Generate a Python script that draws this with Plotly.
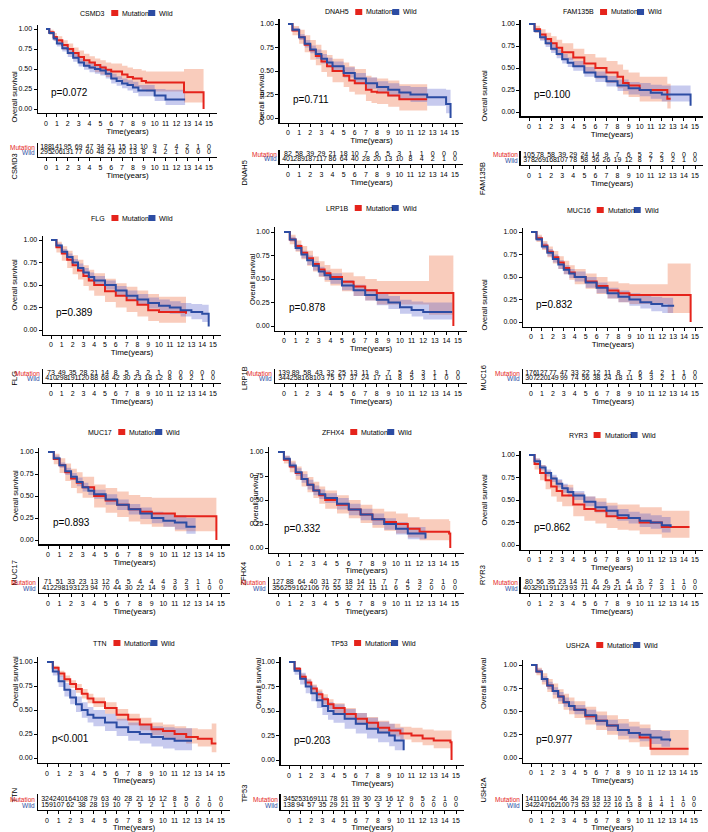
import plotly.graph_objects as go

W, H = 708, 832
RED = "#E5231B"
BLUE = "#2C4CA3"
RED_FILL = "rgba(240,120,80,0.38)"
BLUE_FILL = "rgba(70,80,200,0.30)"
FONT = "Liberation Sans, Arial, sans-serif"

GENES = ["CSMD3", "DNAH5", "FAM135B", "FLG", "LRP1B", "MUC16",
         "MUC17", "ZFHX4", "RYR3", "TTN", "TP53", "USH2A"]
PVALS = ["p=0.072", "p=0.711", "p=0.100", "p=0.389", "p=0.878", "p=0.832",
         "p=0.893", "p=0.332", "p=0.862", "p<0.001", "p=0.203", "p=0.977"]
YEARS = list(range(16))
YTICKS = [0, 0.25, 0.5, 0.75, 1.0]
YTICK_LABELS = ["0.00", "0.25", "0.50", "0.75", "1.00"]

# ---------------- survival curves (time, survival, lower CI, upper CI) ----------------
CSMD3_MUT_T = [0, 0.3, 0.7, 1, 1.5, 2, 2.5, 3, 3.5, 4, 4.5, 5, 5.5, 6, 7, 7.5, 8, 8.8, 9.2, 12.7, 14.5]
CSMD3_MUT_S = [1, 0.96, 0.9, 0.86, 0.8, 0.75, 0.7, 0.65, 0.61, 0.58, 0.55, 0.52, 0.49, 0.47, 0.43, 0.40, 0.38, 0.35, 0.33, 0.21, 0]
CSMD3_MUT_LO = [1, 0.93, 0.86, 0.81, 0.74, 0.68, 0.63, 0.58, 0.53, 0.5, 0.46, 0.43, 0.4, 0.37, 0.33, 0.3, 0.27, 0.24, 0.22, 0.08, 0]
CSMD3_MUT_HI = [1, 0.99, 0.95, 0.91, 0.86, 0.82, 0.77, 0.73, 0.69, 0.66, 0.63, 0.61, 0.58, 0.57, 0.54, 0.52, 0.5, 0.48, 0.47, 0.5, 0]
CSMD3_WT_T = [0, 0.3, 0.7, 1, 1.5, 2, 2.5, 3, 3.5, 4, 4.5, 5, 5.5, 6, 6.5, 7, 7.5, 8, 8.5, 10, 11, 12.8]
CSMD3_WT_S = [1, 0.95, 0.88, 0.82, 0.76, 0.7, 0.64, 0.58, 0.54, 0.52, 0.5, 0.48, 0.44, 0.38, 0.35, 0.32, 0.3, 0.27, 0.23, 0.17, 0.12, 0.12]
CSMD3_WT_LO = [1, 0.93, 0.85, 0.78, 0.72, 0.65, 0.59, 0.53, 0.49, 0.46, 0.44, 0.42, 0.38, 0.32, 0.29, 0.26, 0.23, 0.2, 0.16, 0.1, 0.05, 0.05]
CSMD3_WT_HI = [1, 0.97, 0.91, 0.86, 0.8, 0.75, 0.69, 0.63, 0.59, 0.58, 0.56, 0.54, 0.5, 0.44, 0.41, 0.38, 0.36, 0.34, 0.3, 0.25, 0.24, 0.24]

DNAH5_MUT_T = [0, 0.4, 1, 1.5, 2, 2.5, 3, 3.5, 4, 5, 5.5, 6, 7, 7.5, 8, 9, 10, 12.5]
DNAH5_MUT_S = [1, 0.93, 0.86, 0.78, 0.72, 0.66, 0.6, 0.55, 0.5, 0.45, 0.4, 0.37, 0.3, 0.28, 0.27, 0.24, 0.2, 0.2]
DNAH5_MUT_LO = [1, 0.88, 0.79, 0.7, 0.62, 0.56, 0.49, 0.44, 0.38, 0.33, 0.28, 0.25, 0.18, 0.16, 0.15, 0.12, 0.08, 0.08]
DNAH5_MUT_HI = [1, 0.98, 0.94, 0.88, 0.83, 0.78, 0.72, 0.67, 0.63, 0.59, 0.55, 0.52, 0.45, 0.43, 0.42, 0.4, 0.36, 0.36]
DNAH5_WT_T = [0, 0.4, 1, 1.5, 2, 2.5, 3, 3.5, 4, 5, 6, 7, 8, 9, 10, 11, 12.5, 14.2, 14.6]
DNAH5_WT_S = [1, 0.94, 0.86, 0.79, 0.73, 0.68, 0.63, 0.59, 0.55, 0.48, 0.42, 0.37, 0.33, 0.3, 0.27, 0.25, 0.22, 0.15, 0]
DNAH5_WT_LO = [1, 0.92, 0.83, 0.75, 0.69, 0.63, 0.58, 0.54, 0.5, 0.43, 0.36, 0.31, 0.27, 0.23, 0.2, 0.17, 0.13, 0.05, 0]
DNAH5_WT_HI = [1, 0.96, 0.89, 0.83, 0.77, 0.73, 0.68, 0.64, 0.6, 0.54, 0.48, 0.43, 0.39, 0.37, 0.34, 0.33, 0.31, 0.3, 0]

FAM135B_MUT_T = [0, 0.5, 1, 1.5, 2, 2.5, 3, 4, 5, 6, 7, 8, 8.5, 9, 10, 12.5, 12.8]
FAM135B_MUT_S = [1, 0.94, 0.88, 0.83, 0.78, 0.73, 0.68, 0.62, 0.55, 0.5, 0.45, 0.4, 0.33, 0.3, 0.25, 0.15, 0.15]
FAM135B_MUT_LO = [1, 0.9, 0.82, 0.76, 0.7, 0.64, 0.59, 0.52, 0.44, 0.38, 0.33, 0.27, 0.2, 0.17, 0.12, 0.04, 0.04]
FAM135B_MUT_HI = [1, 0.98, 0.94, 0.9, 0.86, 0.82, 0.78, 0.72, 0.66, 0.62, 0.58, 0.54, 0.48, 0.45, 0.4, 0.32, 0.32]
FAM135B_WT_T = [0, 0.5, 1, 1.5, 2, 2.5, 3, 3.5, 4, 5, 6, 7, 8, 9, 10, 11, 12, 14.5, 14.6]
FAM135B_WT_S = [1, 0.92, 0.85, 0.78, 0.72, 0.66, 0.6, 0.56, 0.52, 0.45, 0.4, 0.35, 0.3, 0.27, 0.25, 0.22, 0.2, 0.2, 0.07]
FAM135B_WT_LO = [1, 0.9, 0.81, 0.74, 0.67, 0.61, 0.55, 0.51, 0.47, 0.4, 0.34, 0.29, 0.24, 0.2, 0.18, 0.15, 0.12, 0.12, 0.07]
FAM135B_WT_HI = [1, 0.95, 0.89, 0.83, 0.77, 0.71, 0.66, 0.62, 0.58, 0.51, 0.46, 0.41, 0.37, 0.34, 0.33, 0.31, 0.3, 0.3, 0.07]

FLG_MUT_T = [0, 0.5, 1, 1.5, 2, 2.5, 3, 3.5, 4, 5, 6, 7, 8, 9, 10, 12.5]
FLG_MUT_S = [1, 0.92, 0.85, 0.78, 0.72, 0.66, 0.6, 0.55, 0.5, 0.43, 0.38, 0.33, 0.28, 0.22, 0.2, 0.18]
FLG_MUT_LO = [1, 0.86, 0.77, 0.69, 0.62, 0.56, 0.49, 0.44, 0.38, 0.31, 0.25, 0.2, 0.15, 0.1, 0.08, 0.06]
FLG_MUT_HI = [1, 0.98, 0.93, 0.88, 0.83, 0.78, 0.72, 0.67, 0.63, 0.57, 0.52, 0.48, 0.44, 0.4, 0.37, 0.35]
FLG_WT_T = [0, 0.5, 1, 1.5, 2, 2.5, 3, 3.5, 4, 5, 6, 7, 8, 9, 10, 11, 12, 13, 14, 14.6]
FLG_WT_S = [1, 0.94, 0.87, 0.81, 0.75, 0.69, 0.64, 0.59, 0.55, 0.5, 0.44, 0.38, 0.34, 0.3, 0.27, 0.25, 0.22, 0.2, 0.18, 0.04]
FLG_WT_LO = [1, 0.92, 0.84, 0.77, 0.71, 0.65, 0.59, 0.54, 0.5, 0.45, 0.39, 0.33, 0.28, 0.24, 0.21, 0.18, 0.15, 0.12, 0.09, 0.04]
FLG_WT_HI = [1, 0.96, 0.9, 0.85, 0.79, 0.74, 0.69, 0.64, 0.6, 0.55, 0.49, 0.44, 0.4, 0.36, 0.34, 0.32, 0.3, 0.29, 0.28, 0.04]

LRP1B_MUT_T = [0, 0.5, 1, 1.5, 2, 2.5, 3, 3.5, 4, 5, 6, 7, 8, 12.5, 14.6]
LRP1B_MUT_S = [1, 0.92, 0.85, 0.78, 0.72, 0.66, 0.6, 0.56, 0.52, 0.47, 0.42, 0.38, 0.35, 0.35, 0]
LRP1B_MUT_LO = [1, 0.87, 0.79, 0.71, 0.64, 0.58, 0.52, 0.47, 0.43, 0.37, 0.32, 0.27, 0.23, 0.12, 0]
LRP1B_MUT_HI = [1, 0.97, 0.91, 0.85, 0.8, 0.74, 0.69, 0.65, 0.61, 0.57, 0.53, 0.5, 0.48, 0.75, 0]
LRP1B_WT_T = [0, 0.5, 1, 1.5, 2, 2.5, 3, 3.5, 4, 5, 6, 7, 8, 9, 10, 11, 12, 14.5]
LRP1B_WT_S = [1, 0.92, 0.83, 0.76, 0.7, 0.64, 0.58, 0.54, 0.5, 0.43, 0.38, 0.33, 0.28, 0.25, 0.2, 0.17, 0.15, 0.15]
LRP1B_WT_LO = [1, 0.9, 0.8, 0.72, 0.65, 0.59, 0.53, 0.49, 0.45, 0.38, 0.32, 0.27, 0.22, 0.18, 0.13, 0.1, 0.07, 0.07]
LRP1B_WT_HI = [1, 0.95, 0.87, 0.8, 0.75, 0.69, 0.63, 0.59, 0.56, 0.49, 0.44, 0.39, 0.35, 0.32, 0.28, 0.26, 0.25, 0.25]

MUC16_MUT_T = [0, 0.5, 1, 1.5, 2, 2.5, 3, 3.5, 4, 5, 6, 7, 8, 9, 12.5, 14.6]
MUC16_MUT_S = [1, 0.93, 0.85, 0.78, 0.72, 0.66, 0.6, 0.55, 0.5, 0.45, 0.4, 0.35, 0.32, 0.3, 0.3, 0]
MUC16_MUT_LO = [1, 0.89, 0.8, 0.72, 0.65, 0.59, 0.53, 0.47, 0.42, 0.37, 0.31, 0.26, 0.22, 0.2, 0.1, 0]
MUC16_MUT_HI = [1, 0.97, 0.9, 0.84, 0.79, 0.73, 0.68, 0.63, 0.59, 0.54, 0.5, 0.45, 0.43, 0.42, 0.65, 0]
MUC16_WT_T = [0, 0.5, 1, 1.5, 2, 2.5, 3, 3.5, 4, 5, 6, 7, 8, 9, 10, 11, 12, 13]
MUC16_WT_S = [1, 0.92, 0.84, 0.77, 0.7, 0.64, 0.58, 0.54, 0.5, 0.44, 0.38, 0.32, 0.28, 0.25, 0.22, 0.2, 0.18, 0.17]
MUC16_WT_LO = [1, 0.9, 0.81, 0.73, 0.66, 0.59, 0.53, 0.49, 0.45, 0.38, 0.32, 0.26, 0.22, 0.18, 0.15, 0.12, 0.1, 0.09]
MUC16_WT_HI = [1, 0.95, 0.88, 0.81, 0.75, 0.69, 0.63, 0.59, 0.56, 0.5, 0.44, 0.38, 0.35, 0.32, 0.3, 0.28, 0.27, 0.27]

MUC17_MUT_T = [0, 0.5, 1, 1.5, 2, 2.5, 3, 4, 5, 6, 7, 8, 9, 11, 14.5, 14.6]
MUC17_MUT_S = [1, 0.92, 0.85, 0.77, 0.7, 0.65, 0.6, 0.5, 0.45, 0.4, 0.35, 0.32, 0.3, 0.27, 0.27, 0]
MUC17_MUT_LO = [1, 0.86, 0.76, 0.67, 0.59, 0.53, 0.48, 0.37, 0.31, 0.26, 0.21, 0.18, 0.15, 0.1, 0.1, 0]
MUC17_MUT_HI = [1, 0.98, 0.93, 0.87, 0.81, 0.77, 0.72, 0.63, 0.59, 0.55, 0.51, 0.49, 0.48, 0.48, 0.48, 0]
MUC17_WT_T = [0, 0.5, 1, 1.5, 2, 2.5, 3, 3.5, 4, 5, 6, 7, 8, 9, 10, 11, 12, 12.8]
MUC17_WT_S = [1, 0.93, 0.85, 0.78, 0.72, 0.66, 0.6, 0.56, 0.52, 0.46, 0.4, 0.35, 0.3, 0.25, 0.22, 0.2, 0.15, 0.15]
MUC17_WT_LO = [1, 0.91, 0.82, 0.74, 0.68, 0.61, 0.55, 0.51, 0.47, 0.4, 0.34, 0.29, 0.24, 0.19, 0.15, 0.12, 0.07, 0.07]
MUC17_WT_HI = [1, 0.96, 0.88, 0.82, 0.76, 0.71, 0.65, 0.61, 0.57, 0.52, 0.46, 0.41, 0.37, 0.32, 0.3, 0.28, 0.25, 0.25]

ZFHX4_MUT_T = [0, 0.5, 1, 1.5, 2, 2.5, 3, 3.5, 4, 5, 6, 7, 8, 9, 10, 11, 12, 14.5, 14.6]
ZFHX4_MUT_S = [1, 0.92, 0.85, 0.78, 0.72, 0.66, 0.6, 0.55, 0.5, 0.45, 0.4, 0.35, 0.3, 0.27, 0.25, 0.2, 0.17, 0.15, 0]
ZFHX4_MUT_LO = [1, 0.88, 0.79, 0.71, 0.64, 0.58, 0.52, 0.46, 0.41, 0.36, 0.31, 0.26, 0.21, 0.18, 0.15, 0.11, 0.08, 0.06, 0]
ZFHX4_MUT_HI = [1, 0.96, 0.91, 0.85, 0.8, 0.74, 0.69, 0.64, 0.6, 0.55, 0.5, 0.45, 0.41, 0.38, 0.36, 0.32, 0.3, 0.28, 0]
ZFHX4_WT_T = [0, 0.5, 1, 1.5, 2, 2.5, 3, 3.5, 4, 5, 6, 7, 8, 9, 10, 11, 12.5]
ZFHX4_WT_S = [1, 0.93, 0.86, 0.79, 0.72, 0.66, 0.6, 0.56, 0.52, 0.46, 0.4, 0.35, 0.3, 0.25, 0.2, 0.15, 0.1]
ZFHX4_WT_LO = [1, 0.91, 0.83, 0.75, 0.68, 0.61, 0.55, 0.51, 0.47, 0.4, 0.34, 0.29, 0.24, 0.19, 0.14, 0.09, 0.05]
ZFHX4_WT_HI = [1, 0.96, 0.89, 0.83, 0.77, 0.71, 0.65, 0.61, 0.57, 0.52, 0.46, 0.41, 0.36, 0.31, 0.27, 0.22, 0.18]

RYR3_MUT_T = [0, 0.5, 1, 1.5, 2, 2.5, 3, 4, 5, 6, 7, 8, 9, 10, 12, 14.5]
RYR3_MUT_S = [1, 0.9, 0.8, 0.72, 0.65, 0.6, 0.55, 0.45, 0.4, 0.38, 0.32, 0.3, 0.3, 0.25, 0.2, 0.2]
RYR3_MUT_LO = [1, 0.84, 0.72, 0.62, 0.54, 0.48, 0.43, 0.32, 0.27, 0.24, 0.19, 0.17, 0.16, 0.12, 0.08, 0.08]
RYR3_MUT_HI = [1, 0.96, 0.89, 0.82, 0.76, 0.72, 0.67, 0.58, 0.54, 0.52, 0.47, 0.45, 0.45, 0.42, 0.38, 0.38]
RYR3_WT_T = [0, 0.5, 1, 1.5, 2, 2.5, 3, 3.5, 4, 5, 6, 7, 8, 9, 10, 11, 12, 12.8]
RYR3_WT_S = [1, 0.93, 0.86, 0.8, 0.74, 0.68, 0.63, 0.59, 0.55, 0.48, 0.42, 0.38, 0.33, 0.3, 0.27, 0.25, 0.22, 0.2]
RYR3_WT_LO = [1, 0.91, 0.83, 0.76, 0.7, 0.64, 0.58, 0.54, 0.5, 0.43, 0.36, 0.32, 0.27, 0.24, 0.2, 0.18, 0.14, 0.12]
RYR3_WT_HI = [1, 0.96, 0.89, 0.84, 0.78, 0.73, 0.68, 0.64, 0.6, 0.54, 0.48, 0.44, 0.4, 0.37, 0.35, 0.33, 0.31, 0.3]

TTN_MUT_T = [0, 0.5, 1, 1.5, 2, 2.5, 3, 3.5, 4, 5, 6, 7, 8, 9, 10, 11, 12, 13, 14.2, 14.6]
TTN_MUT_S = [1, 0.94, 0.88, 0.82, 0.77, 0.72, 0.67, 0.62, 0.58, 0.52, 0.45, 0.4, 0.35, 0.3, 0.28, 0.25, 0.22, 0.2, 0.15, 0.15]
TTN_MUT_LO = [1, 0.92, 0.85, 0.79, 0.73, 0.68, 0.62, 0.57, 0.53, 0.46, 0.39, 0.34, 0.29, 0.24, 0.21, 0.18, 0.15, 0.12, 0.06, 0.06]
TTN_MUT_HI = [1, 0.96, 0.91, 0.86, 0.81, 0.77, 0.72, 0.67, 0.63, 0.58, 0.51, 0.46, 0.42, 0.37, 0.35, 0.33, 0.31, 0.3, 0.36, 0.36]
TTN_WT_T = [0, 0.5, 1, 1.5, 2, 2.5, 3, 3.5, 4, 5, 6, 7, 8, 9, 10, 11, 12.5]
TTN_WT_S = [1, 0.9, 0.8, 0.71, 0.63, 0.56, 0.5, 0.45, 0.42, 0.37, 0.32, 0.27, 0.25, 0.22, 0.2, 0.18, 0.18]
TTN_WT_LO = [1, 0.86, 0.74, 0.64, 0.56, 0.48, 0.42, 0.37, 0.33, 0.28, 0.23, 0.18, 0.15, 0.12, 0.1, 0.08, 0.08]
TTN_WT_HI = [1, 0.94, 0.86, 0.78, 0.71, 0.64, 0.58, 0.53, 0.5, 0.46, 0.41, 0.37, 0.35, 0.33, 0.32, 0.31, 0.31]

TP53_MUT_T = [0, 0.5, 1, 1.5, 2, 2.5, 3, 3.5, 4, 5, 6, 7, 8, 9, 10, 11, 12, 13, 14.5, 14.6]
TP53_MUT_S = [1, 0.93, 0.85, 0.79, 0.73, 0.67, 0.62, 0.57, 0.53, 0.47, 0.42, 0.38, 0.33, 0.3, 0.27, 0.25, 0.22, 0.2, 0.18, 0]
TP53_MUT_LO = [1, 0.91, 0.82, 0.75, 0.69, 0.63, 0.57, 0.52, 0.48, 0.42, 0.36, 0.32, 0.27, 0.24, 0.21, 0.18, 0.15, 0.12, 0.1, 0]
TP53_MUT_HI = [1, 0.95, 0.88, 0.83, 0.77, 0.72, 0.67, 0.62, 0.58, 0.53, 0.48, 0.44, 0.4, 0.37, 0.34, 0.33, 0.31, 0.3, 0.3, 0]
TP53_WT_T = [0, 0.5, 1, 1.5, 2, 2.5, 3, 3.5, 4, 5, 6, 7, 8, 9, 9.5, 10.3]
TP53_WT_S = [1, 0.91, 0.83, 0.75, 0.68, 0.61, 0.55, 0.5, 0.47, 0.42, 0.37, 0.32, 0.28, 0.25, 0.2, 0.1]
TP53_WT_LO = [1, 0.87, 0.77, 0.68, 0.6, 0.53, 0.46, 0.41, 0.38, 0.32, 0.27, 0.22, 0.18, 0.14, 0.1, 0.03]
TP53_WT_HI = [1, 0.95, 0.89, 0.82, 0.76, 0.7, 0.64, 0.59, 0.57, 0.52, 0.48, 0.43, 0.39, 0.37, 0.33, 0.27]

USH2A_MUT_T = [0, 0.5, 1, 1.5, 2, 2.5, 3, 3.5, 4, 5, 6, 7, 8, 9, 10, 11, 14.5]
USH2A_MUT_S = [1, 0.93, 0.85, 0.78, 0.72, 0.66, 0.6, 0.56, 0.52, 0.45, 0.4, 0.35, 0.3, 0.27, 0.22, 0.1, 0.1]
USH2A_MUT_LO = [1, 0.89, 0.79, 0.71, 0.64, 0.58, 0.52, 0.47, 0.43, 0.36, 0.3, 0.25, 0.2, 0.17, 0.12, 0.03, 0.03]
USH2A_MUT_HI = [1, 0.97, 0.91, 0.85, 0.8, 0.74, 0.69, 0.65, 0.61, 0.55, 0.5, 0.46, 0.42, 0.39, 0.36, 0.3, 0.3]
USH2A_WT_T = [0, 0.5, 1, 1.5, 2, 2.5, 3, 3.5, 4, 5, 6, 7, 8, 9, 10, 11, 12, 12.8]
USH2A_WT_S = [1, 0.93, 0.85, 0.78, 0.72, 0.66, 0.6, 0.56, 0.52, 0.46, 0.4, 0.35, 0.3, 0.27, 0.25, 0.22, 0.2, 0.18]
USH2A_WT_LO = [1, 0.91, 0.82, 0.74, 0.68, 0.61, 0.55, 0.51, 0.47, 0.41, 0.35, 0.29, 0.24, 0.21, 0.18, 0.15, 0.12, 0.1]
USH2A_WT_HI = [1, 0.96, 0.88, 0.82, 0.76, 0.71, 0.65, 0.61, 0.57, 0.52, 0.46, 0.41, 0.37, 0.34, 0.32, 0.3, 0.29, 0.29]

# ---------------- numbers at risk (years 0..15) ----------------
CSMD3_RISK_MUT = [188, 141, 95, 69, 47, 34, 21, 15, 13, 10, 9, 7, 4, 2, 1, 0]
CSMD3_RISK_WT = [295, 206, 131, 77, 60, 48, 29, 20, 13, 8, 4, 2, 1, 0, 0, 0]
DNAH5_RISK_MUT = [82, 58, 39, 29, 21, 18, 10, 7, 6, 5, 3, 1, 1, 0, 0, 0]
DNAH5_RISK_WT = [401, 289, 187, 117, 86, 64, 40, 28, 20, 13, 10, 8, 4, 2, 1, 0]
FAM135B_RISK_MUT = [105, 78, 58, 39, 29, 24, 14, 9, 7, 6, 5, 2, 2, 0, 0, 0]
FAM135B_RISK_WT = [378, 269, 168, 107, 78, 58, 36, 26, 19, 12, 8, 7, 3, 2, 1, 0]
FLG_RISK_MUT = [73, 49, 35, 28, 21, 14, 8, 5, 3, 2, 1, 0, 0, 0, 0, 0]
FLG_RISK_WT = [410, 298, 191, 120, 88, 68, 42, 30, 23, 18, 12, 8, 6, 2, 1, 0]
LRP1B_RISK_MUT = [139, 89, 58, 43, 32, 25, 13, 11, 9, 7, 5, 4, 3, 1, 1, 0]
LRP1B_RISK_WT = [344, 258, 168, 103, 75, 57, 37, 24, 17, 11, 8, 5, 3, 1, 0, 0]
MUC16_RISK_MUT = [176, 127, 77, 47, 33, 22, 12, 11, 8, 7, 6, 4, 2, 1, 1, 0]
MUC16_RISK_WT = [307, 220, 149, 99, 74, 56, 38, 24, 18, 11, 5, 3, 2, 1, 0, 0]
MUC17_RISK_MUT = [71, 51, 33, 23, 13, 12, 6, 5, 4, 4, 4, 3, 2, 1, 1, 0]
MUC17_RISK_WT = [412, 298, 193, 123, 94, 70, 44, 30, 22, 14, 9, 6, 3, 1, 0, 0]
ZFHX4_RISK_MUT = [127, 88, 64, 40, 31, 27, 18, 14, 11, 7, 7, 4, 3, 2, 1, 0]
ZFHX4_RISK_WT = [356, 259, 162, 106, 76, 55, 32, 21, 15, 11, 6, 5, 2, 0, 0, 0]
RYR3_RISK_MUT = [80, 56, 35, 23, 14, 11, 6, 6, 5, 4, 3, 2, 2, 1, 1, 0]
RYR3_RISK_WT = [403, 291, 191, 123, 93, 71, 44, 29, 21, 14, 10, 7, 3, 1, 0, 0]
TTN_RISK_MUT = [324, 240, 164, 108, 79, 63, 40, 28, 21, 16, 12, 8, 5, 2, 1, 0]
TTN_RISK_WT = [159, 107, 62, 38, 28, 19, 10, 7, 5, 2, 1, 1, 0, 0, 0, 0]
TP53_RISK_MUT = [345, 253, 169, 111, 78, 61, 39, 30, 23, 16, 12, 9, 5, 2, 1, 0]
TP53_RISK_WT = [138, 94, 57, 35, 29, 21, 11, 5, 3, 2, 1, 0, 0, 0, 0, 0]
USH2A_RISK_MUT = [141, 100, 64, 46, 34, 29, 18, 13, 10, 5, 5, 1, 1, 1, 1, 0]
USH2A_RISK_WT = [342, 247, 162, 100, 73, 53, 32, 22, 16, 13, 8, 8, 4, 1, 0, 0]

DATA = {}
for _g in GENES:
    DATA[_g] = dict(
        mut=(globals()[_g + "_MUT_T"], globals()[_g + "_MUT_S"], globals()[_g + "_MUT_LO"], globals()[_g + "_MUT_HI"]),
        wt=(globals()[_g + "_WT_T"], globals()[_g + "_WT_S"], globals()[_g + "_WT_LO"], globals()[_g + "_WT_HI"]),
        rmut=globals()[_g + "_RISK_MUT"], rwt=globals()[_g + "_RISK_WT"])

# ---------------- panel geometry in pixels ----------------
# lab: x of "Overall survival" ; rlab: x of the rotated gene label of the risk table
GEOM = [
    dict(x0=46, x15=209, y1=29, y0=109, leg=13, rm=147, rw=152, rb=157, lab=8, rlab=7),
    dict(x0=288, x15=455, y1=24, y0=118, leg=12, rm=154, rw=159, rb=164, lab=262, rlab=244),
    dict(x0=529, x15=695, y1=24, y0=112, leg=12, rm=155, rw=160, rb=165, lab=490, rlab=489),
    dict(x0=51, x15=213, y1=240, y0=330, leg=218, rm=373, rw=378, rb=383, lab=8, rlab=7),
    dict(x0=284, x15=458, y1=232, y0=326, leg=208, rm=373, rw=378, rb=383, lab=252, rlab=244),
    dict(x0=531, x15=695, y1=232, y0=322, leg=210, rm=373, rw=378, rb=383, lab=490, rlab=489),
    dict(x0=48, x15=221, y1=452, y0=540, leg=432, rm=582, rw=588, rb=593, lab=8, rlab=7),
    dict(x0=278, x15=455, y1=452, y0=548, leg=432, rm=582, rw=588, rb=593, lab=255, rlab=243),
    dict(x0=529, x15=695, y1=455, y0=545, leg=435, rm=582, rw=588, rb=593, lab=490, rlab=489),
    dict(x0=47, x15=221, y1=662, y0=758, leg=643, rm=799, rw=805, rb=810, lab=8, rlab=7),
    dict(x0=289, x15=456, y1=662, y0=760, leg=643, rm=799, rw=805, rb=810, lab=258, rlab=244),
    dict(x0=531, x15=694, y1=665, y0=758, leg=645, rm=799, rw=805, rb=810, lab=490, rlab=489),
]


def fx(p):
    return p / W


def fy(p):
    return 1 - p / H


fig = go.Figure()
layout = {}
annotations = []
shapes = []

axis_common = dict(showline=True, linecolor="black", linewidth=1.3, ticks="outside",
                   ticklen=3, tickwidth=1, tickcolor="black", showgrid=False, zeroline=False,
                   tickfont=dict(size=7, color="black", family=FONT), fixedrange=True)

for i, gene in enumerate(GENES):
    g = GEOM[i]
    d = DATA[gene]
    k = i + 1
    kr = i + 13
    ppy = (g["x15"] - g["x0"]) / 15.0
    left_px = g["x0"] - 0.75 * ppy
    right_px = g["x15"] + 0.75 * ppy
    xd = [fx(left_px), fx(right_px)]
    ppu = g["y0"] - g["y1"]
    yd = [fy(g["y0"] + 0.05 * ppu), fy(g["y1"] - 0.05 * ppu)]

    layout[f"xaxis{k}"] = dict(axis_common, domain=xd, range=[-0.75, 15.75], anchor=f"y{k}",
                               tickvals=YEARS, ticktext=[str(v) for v in YEARS],
                               title=dict(text="Time(years)", font=dict(size=8, family=FONT, color="black"), standoff=1))
    layout[f"yaxis{k}"] = dict(axis_common, domain=yd, range=[-0.05, 1.05], anchor=f"x{k}",
                               tickvals=YTICKS, ticktext=YTICK_LABELS)

    dr = g["rw"] - g["rm"]
    bottom_val = 1 - (g["rb"] - g["rw"]) / dr
    top_val = 2.9
    top_px = g["rm"] - 0.9 * dr
    layout[f"xaxis{kr}"] = dict(axis_common, domain=xd, range=[-0.75, 15.75], anchor=f"y{kr}",
                                tickvals=YEARS, ticktext=[str(v) for v in YEARS],
                                title=dict(text="Time(years)", font=dict(size=8, family=FONT, color="black"), standoff=1))
    layout[f"yaxis{kr}"] = dict(showline=True, linecolor="black", linewidth=1.3, showgrid=False,
                                zeroline=False, showticklabels=False, ticks="", fixedrange=True,
                                domain=[fy(g["rb"]), fy(top_px)], range=[bottom_val, top_val], anchor=f"x{kr}")

    for key, fill in (("mut", RED_FILL), ("wt", BLUE_FILL)):
        t, s, lo, hi = d[key]
        fig.add_trace(go.Scatter(x=t, y=hi, mode="lines", line=dict(width=0, shape="hv"),
                                 xaxis=f"x{k}", yaxis=f"y{k}", showlegend=False, hoverinfo="skip"))
        fig.add_trace(go.Scatter(x=t, y=lo, mode="lines", line=dict(width=0, shape="hv"),
                                 fill="tonexty", fillcolor=fill,
                                 xaxis=f"x{k}", yaxis=f"y{k}", showlegend=False, hoverinfo="skip"))
    for key, col in (("mut", RED), ("wt", BLUE)):
        t, s, lo, hi = d[key]
        fig.add_trace(go.Scatter(x=t, y=s, mode="lines", line=dict(width=2, color=col, shape="hv"),
                                 xaxis=f"x{k}", yaxis=f"y{k}", showlegend=False))

    fig.add_trace(go.Scatter(x=YEARS, y=[2] * 16, mode="text", text=[str(v) for v in d["rmut"]],
                             textfont=dict(size=7, color="black", family=FONT),
                             xaxis=f"x{kr}", yaxis=f"y{kr}", showlegend=False, hoverinfo="skip"))
    fig.add_trace(go.Scatter(x=YEARS, y=[1] * 16, mode="text", text=[str(v) for v in d["rwt"]],
                             textfont=dict(size=7, color="black", family=FONT),
                             xaxis=f"x{kr}", yaxis=f"y{kr}", showlegend=False, hoverinfo="skip"))

    annotations.append(dict(x=0.3, y=0.2, xref=f"x{k}", yref=f"y{k}", text=PVALS[i], showarrow=False,
                            xanchor="left", yanchor="middle", font=dict(size=10, color="black", family=FONT)))
    annotations.append(dict(x=fx(g["lab"]), y=fy((g["y0"] + g["y1"]) / 2), xref="paper", yref="paper",
                            text="Overall survival", textangle=-90, showarrow=False,
                            font=dict(size=7.5, color="black", family=FONT)))
    annotations.append(dict(x=fx(g["rlab"]), y=fy((g["rm"] + g["rb"]) / 2), xref="paper", yref="paper",
                            text=gene, textangle=-90, showarrow=False,
                            font=dict(size=7.5, color="black", family=FONT)))
    annotations.append(dict(x=fx(left_px - 1), y=fy(g["rm"]), xref="paper", yref="paper", text="Mutation",
                            showarrow=False, xanchor="right", yanchor="middle",
                            font=dict(size=6.5, color=RED, family=FONT)))
    annotations.append(dict(x=fx(left_px - 1), y=fy(g["rw"]), xref="paper", yref="paper", text="Wild",
                            showarrow=False, xanchor="right", yanchor="middle",
                            font=dict(size=6.5, color=BLUE, family=FONT)))

    cx = (left_px + right_px) / 2
    name_w = 4.3 * len(gene)
    total = name_w + 4 + 58
    lx = cx - total / 2
    ly = g["leg"]
    annotations.append(dict(x=fx(lx + name_w), y=fy(ly), xref="paper", yref="paper", text=gene,
                            showarrow=False, xanchor="right", yanchor="middle",
                            font=dict(size=7, color="black", family=FONT)))
    bx = lx + name_w + 4
    shapes.append(dict(type="rect", xref="paper", yref="paper", x0=fx(bx), x1=fx(bx + 7),
                       y0=fy(ly + 3), y1=fy(ly - 3), fillcolor=RED, line=dict(width=0)))
    annotations.append(dict(x=fx(bx + 9), y=fy(ly), xref="paper", yref="paper", text="Mutation",
                            showarrow=False, xanchor="left", yanchor="middle",
                            font=dict(size=7, color="black", family=FONT)))
    bx2 = bx + 37
    shapes.append(dict(type="rect", xref="paper", yref="paper", x0=fx(bx2), x1=fx(bx2 + 7),
                       y0=fy(ly + 3), y1=fy(ly - 3), fillcolor=BLUE, line=dict(width=0)))
    annotations.append(dict(x=fx(bx2 + 9), y=fy(ly), xref="paper", yref="paper", text="Wild",
                            showarrow=False, xanchor="left", yanchor="middle",
                            font=dict(size=7, color="black", family=FONT)))

fig.update_layout(
    width=W, height=H, margin=dict(l=0, r=0, t=0, b=0),
    paper_bgcolor="white", plot_bgcolor="white",
    font=dict(family=FONT, color="black"),
    showlegend=False, annotations=annotations, shapes=shapes,
    **layout,
)

fig.write_html("out.html", config={"displayModeBar": False, "staticPlot": True},
               post_script="document.body.style.margin='0px';document.body.style.padding='0px';"
                           "document.body.style.overflow='hidden';")
